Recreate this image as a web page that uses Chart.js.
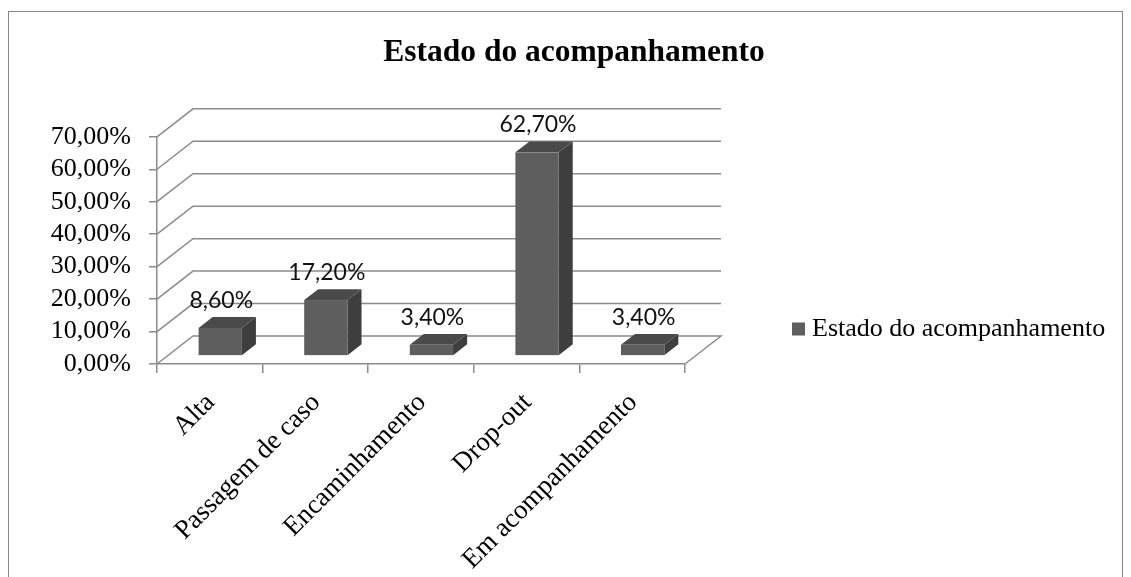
<!DOCTYPE html>
<html lang="pt">
<head>
<meta charset="utf-8">
<title>Estado do acompanhamento</title>
<script src="https://cdn.jsdelivr.net/npm/chart.js@4.4.1/dist/chart.umd.min.js"></script>
<style>
    html, body { margin: 0; padding: 0; background: #fff; overflow: hidden; }
    .frame {
        position: absolute; left: 8px; top: 11px;
        width: 1113px; height: 600px;
        border: 1px solid #868686; border-bottom: none;
    }
    .wrap { position: absolute; left: 0; top: 0; width: 1131px; height: 577px; }
</style>
</head>
<body>
<div class="frame"></div>
<div class="wrap"><canvas id="chart"></canvas></div>
<script>
// Data
const categories = ['Alta', 'Passagem de caso', 'Encaminhamento', 'Drop-out', 'Em acompanhamento'];
const values = [0.086, 0.172, 0.034, 0.627, 0.034];
const seriesName = 'Estado do acompanhamento';
const yTicks = [0, 0.1, 0.2, 0.3, 0.4, 0.5, 0.6, 0.7];

// Look
const gridColor = '#8b8b8b';
const faceFront = '#5e5e5e';
const faceTop = '#4a4a4a';
const faceSide = '#3e3e3e';
const depth = { dx: 36, dy: -28 };   // floor depth of the 3D box
const barFront = 0.29, barBack = 0.68; // where the bars sit inside that depth

const serif = '"Liberation Serif", "Times New Roman", serif';

function pct(v) {
    return (v * 100).toFixed(2).replace('.', ',') + '%';
}

const box3d = {
    id: 'box3d',
    beforeDatasetsDraw(chart) {
        // side wall + back wall grid lines, plus the floor
        const { ctx, chartArea: a, scales: { y } } = chart;
        ctx.save();
        ctx.strokeStyle = gridColor;
        ctx.lineWidth = 1.5;
        yTicks.forEach(v => {
            const py = y.getPixelForValue(v);
            ctx.beginPath();
            ctx.moveTo(a.left, py);
            ctx.lineTo(a.left + depth.dx, py + depth.dy);
            ctx.lineTo(a.right + depth.dx, py + depth.dy);
            if (v === 0) ctx.lineTo(a.right, py);
            ctx.stroke();
        });
        ctx.restore();
    },
    afterDatasetsDraw(chart) {
        const { ctx } = chart;
        const meta = chart.getDatasetMeta(0);
        const fx = depth.dx * barFront, fy = depth.dy * barFront;
        const bdx = depth.dx * (barBack - barFront), bdy = depth.dy * (barBack - barFront);

        ctx.save();
        meta.data.forEach((bar, i) => {
            const p = bar.getProps(['x', 'y', 'base', 'width'], true);
            const L = p.x - p.width / 2 + fx;
            const R = p.x + p.width / 2 + fx;
            const T = p.y + fy;
            const B = p.base + fy;

            // side
            ctx.fillStyle = faceSide;
            ctx.beginPath();
            ctx.moveTo(R, T);
            ctx.lineTo(R + bdx, T + bdy);
            ctx.lineTo(R + bdx, B + bdy);
            ctx.lineTo(R, B);
            ctx.closePath();
            ctx.fill();

            // top
            ctx.fillStyle = faceTop;
            ctx.beginPath();
            ctx.moveTo(L, T);
            ctx.lineTo(L + bdx, T + bdy);
            ctx.lineTo(R + bdx, T + bdy);
            ctx.lineTo(R, T);
            ctx.closePath();
            ctx.fill();

            // front
            ctx.fillStyle = faceFront;
            ctx.fillRect(L, T, R - L, B - T);

            // value label
            ctx.fillStyle = '#111';
            ctx.font = '23px Lato, "Open Sans", sans-serif';
            ctx.textAlign = 'center';
            ctx.textBaseline = 'alphabetic';
            ctx.fillText(pct(values[i]), (L + R) / 2 + 1, T + bdy - 9);
        });
        ctx.restore();
    },
    afterDraw(chart) {
        // legend on the right
        const { ctx, chartArea: a } = chart;
        const lx = a.right + 107, ly = a.bottom - 35;
        ctx.save();
        ctx.fillStyle = faceFront;
        ctx.fillRect(lx, ly - 6.5, 13, 13);
        ctx.fillStyle = '#000';
        ctx.font = '26px ' + serif;
        ctx.textAlign = 'left';
        ctx.textBaseline = 'middle';
        ctx.fillText(seriesName, lx + 20, ly);
        ctx.restore();
    }
};

new Chart(document.getElementById('chart'), {
    type: 'bar',
    data: {
        labels: categories,
        datasets: [{
            label: seriesName,
            data: values,
            yAxisID: 'y',
            backgroundColor: 'rgba(0,0,0,0)',
            borderWidth: 0,
            categoryPercentage: 1,
            barPercentage: 0.41
        }]
    },
    options: {
        responsive: true,
        maintainAspectRatio: false,
        animation: false,
        layout: { padding: { left: 17, right: 0, top: 0, bottom: 0 } },
        plugins: {
            legend: { display: false },
            tooltip: { enabled: false },
            title: {
                display: true,
                text: 'Estado do acompanhamento',
                color: '#000',
                font: { family: serif, size: 31.5, weight: 'bold' },
                padding: { top: 34, bottom: 65 }
            }
        },
        scales: {
            x: {
                grid: { display: true, drawOnChartArea: false, offset: true, tickLength: 9, color: gridColor, lineWidth: 1.5 },
                border: { display: true, color: gridColor, width: 1.5 },
                ticks: {
                    autoSkip: false, minRotation: 45, maxRotation: 45,
                    padding: 14, labelOffset: 1, color: '#000',
                    font: { family: serif, size: 27 }
                },
                afterFit(scale) { scale.height = 213; }
            },
            y: {
                min: 0, max: 0.7,
                grid: { display: true, drawOnChartArea: false, tickLength: 8, color: gridColor, lineWidth: 1.5 },
                border: { display: true, color: gridColor, width: 1.5 },
                ticks: {
                    stepSize: 0.1, autoSkip: false, padding: 18, color: '#000',
                    font: { family: serif, size: 26 },
                    callback: v => pct(v)
                },
                afterFit(scale) { scale.width = 140; }
            },
            // keeps the space on the right free for the legend
            reserve: {
                type: 'linear', position: 'right', display: true,
                grid: { display: false }, border: { display: false },
                ticks: { display: false },
                afterFit(scale) { scale.width = 446; }
            }
        }
    },
    plugins: [box3d]
});
</script>
</body>
</html>
